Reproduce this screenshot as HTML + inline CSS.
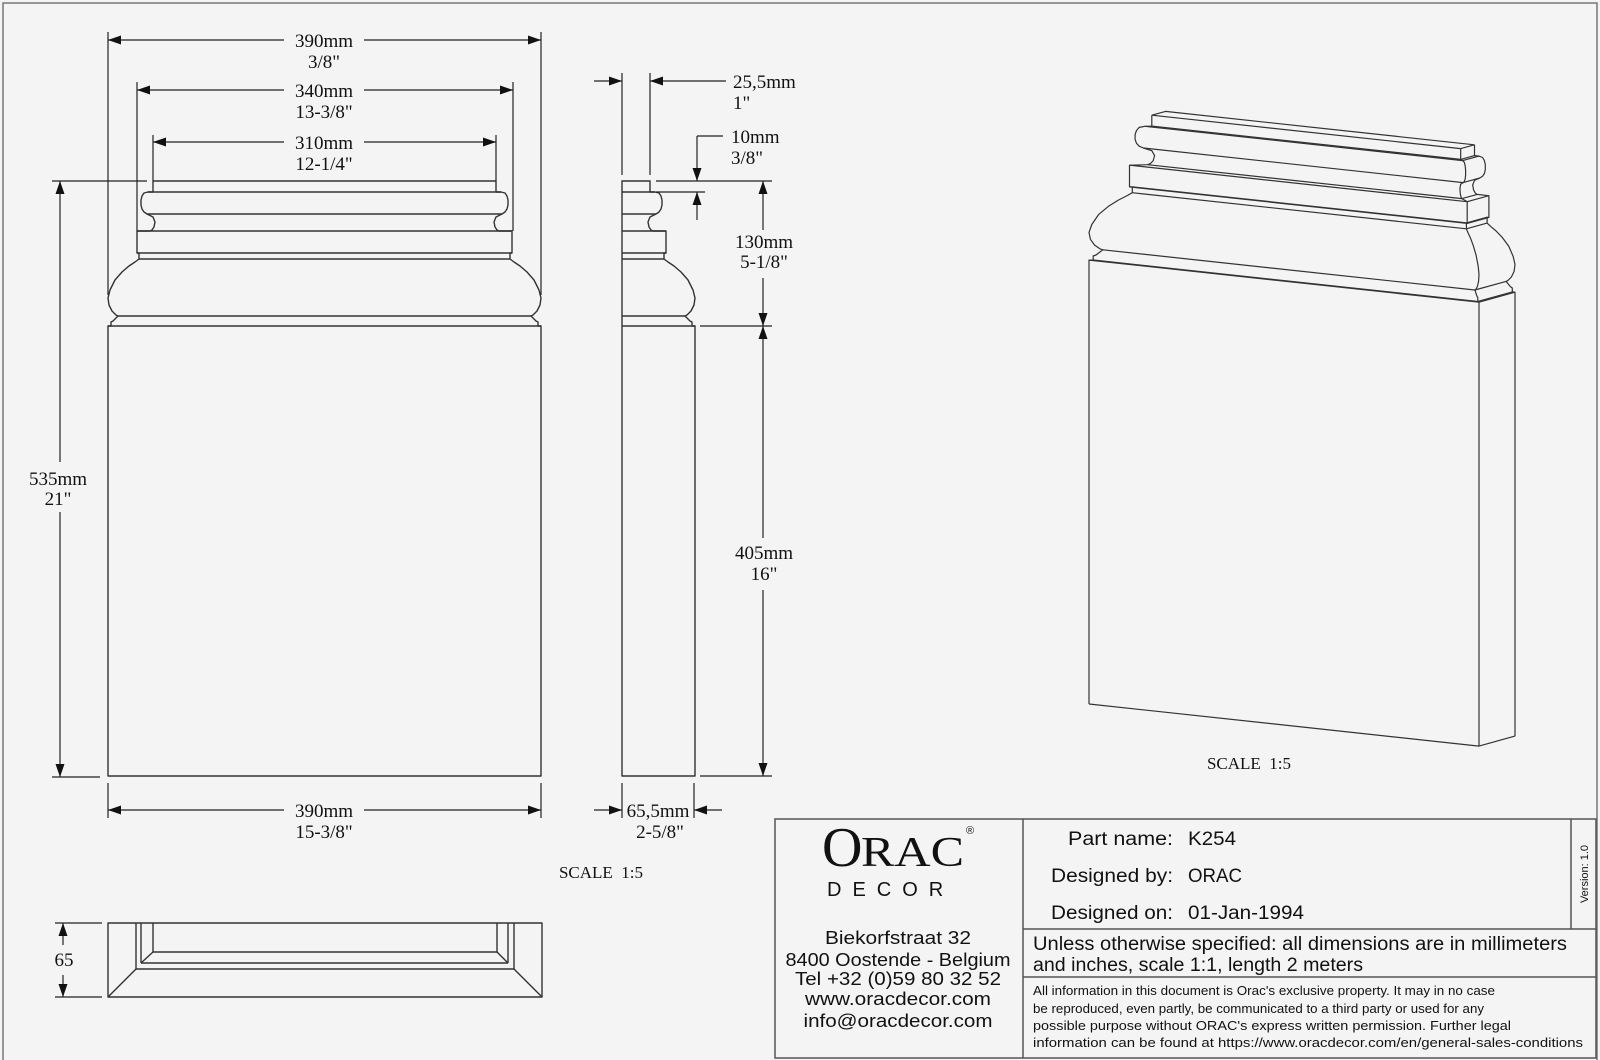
<!DOCTYPE html>
<html><head><meta charset="utf-8">
<style>
html,body{margin:0;padding:0;background:#f4f4f4;}
svg{display:block;}
.d{font-family:"Liberation Serif",serif;font-size:19px;fill:#111;}
.s{font-family:"Liberation Sans",sans-serif;fill:#111;}
</style></head><body>
<svg id="sv" width="1600" height="1060" viewBox="0 0 1600 1060" xmlns="http://www.w3.org/2000/svg">
<rect x="0" y="0" width="1600" height="1060" fill="#f4f4f4"/>
<rect x="3" y="3" width="1594" height="1060" fill="none" stroke="#777" stroke-width="1.5"/>
<g id="geo" fill="none" stroke="#333" stroke-width="1.4" stroke-linejoin="round"></g>
<g id="iso" fill="none" stroke="#333" stroke-width="1.2" stroke-linejoin="round"></g>
<g id="dims" stroke="#222" stroke-width="1.2" fill="none"></g>
<g id="arr" fill="#111" stroke="none"></g>

<g class="d" text-anchor="middle">
<text x="324" y="47">390mm</text><text x="324" y="68">3/8"</text>
<text x="324" y="97">340mm</text><text x="324" y="118">13-3/8"</text>
<text x="324" y="149">310mm</text><text x="324" y="170">12-1/4"</text>
<text x="58" y="485">535mm</text><text x="58" y="505">21"</text>
<text x="324" y="817">390mm</text><text x="324" y="838">15-3/8"</text>
<text x="658" y="817">65,5mm</text><text x="660" y="838">2-5/8"</text>
<text x="764" y="248">130mm</text><text x="764" y="268">5-1/8"</text>
<text x="764" y="559">405mm</text><text x="764" y="580">16"</text>
<text x="64" y="966">65</text>
<text x="601" y="878" style="font-size:17px">SCALE&#160;&#160;1:5</text>
<text x="1249" y="769" style="font-size:17px">SCALE&#160;&#160;1:5</text>
</g>
<g class="d">
<text x="733" y="88">25,5mm</text><text x="733" y="109">1"</text>
<text x="731" y="143">10mm</text><text x="731" y="164">3/8"</text>
</g>

<g stroke="#555" stroke-width="1.5" fill="none">
<rect x="775" y="819" width="821" height="239"/>
<line x1="1023" y1="819" x2="1023" y2="1058"/>
<line x1="1571" y1="819" x2="1571" y2="929"/>
<line x1="1023" y1="929" x2="1596" y2="929"/>
<line x1="1023" y1="977" x2="1596" y2="977"/>
</g>
<g style="font-family:'Liberation Serif',serif;fill:#111">
<text x="822" y="866" style="font-size:56px">O</text>
<text x="861" y="866" style="font-size:42px" textLength="103" lengthAdjust="spacingAndGlyphs">RAC</text>
<text x="966" y="834" style="font-size:11px;font-family:'Liberation Sans',sans-serif">®</text>
</g>
<text class="s" x="827" y="896" style="font-size:20px;letter-spacing:11px">DECOR</text>
<g class="s" text-anchor="middle" style="font-size:18px">
<text x="898" y="944" textLength="146" lengthAdjust="spacingAndGlyphs">Biekorfstraat 32</text>
<text x="898" y="966" textLength="225" lengthAdjust="spacingAndGlyphs">8400 Oostende - Belgium</text>
<text x="898" y="985" textLength="206" lengthAdjust="spacingAndGlyphs">Tel  +32 (0)59 80 32 52</text>
<text x="898" y="1005" textLength="186" lengthAdjust="spacingAndGlyphs">www.oracdecor.com</text>
<text x="898" y="1027" textLength="189" lengthAdjust="spacingAndGlyphs">info@oracdecor.com</text>
</g>
<g class="s" style="font-size:19px">
<text x="1173" y="845" text-anchor="end" textLength="105" lengthAdjust="spacingAndGlyphs">Part name:</text>
<text x="1188" y="845" textLength="48" lengthAdjust="spacingAndGlyphs">K254</text>
<text x="1173" y="882" text-anchor="end" textLength="122" lengthAdjust="spacingAndGlyphs">Designed by:</text>
<text x="1188" y="882" textLength="54" lengthAdjust="spacingAndGlyphs">ORAC</text>
<text x="1173" y="919" text-anchor="end" textLength="122" lengthAdjust="spacingAndGlyphs">Designed on:</text>
<text x="1188" y="919" textLength="116" lengthAdjust="spacingAndGlyphs">01-Jan-1994</text>
<text x="1033" y="950" textLength="534" lengthAdjust="spacingAndGlyphs">Unless otherwise specified: all dimensions are in millimeters</text>
<text x="1033" y="971" textLength="330" lengthAdjust="spacingAndGlyphs">and inches, scale 1:1, length 2 meters</text>
</g>
<g class="s" style="font-size:13px">
<text x="1033" y="995" textLength="462" lengthAdjust="spacingAndGlyphs">All information in this document is Orac's exclusive property.  It may in no case</text>
<text x="1033" y="1013" textLength="451" lengthAdjust="spacingAndGlyphs">be reproduced, even partly, be communicated to a third party or used for any</text>
<text x="1033" y="1030" textLength="478" lengthAdjust="spacingAndGlyphs">possible purpose without ORAC's express written permission. Further legal</text>
<text x="1033" y="1047" textLength="550" lengthAdjust="spacingAndGlyphs">information can be found at https://www.oracdecor.com/en/general-sales-conditions</text>
</g>
<text class="s" x="0" y="0" transform="translate(1588,874) rotate(-90)" text-anchor="middle" style="font-size:11px">Version: 1.0</text>
</svg>
<script>
(function(){
var P=[[181,45],[192,45],[192,40],[193,36],[196,34],[200,33],[205,33],[209,34],[212,36],[214,39],[217,45],[222,47],[227,46],[230,44],[231,42],[231,29],[253,29],[253,31],[259,31],[262,27],[266,21],[272,14],[280,7],[290,2],[298,0],[305,1],[311,4],[315,8],[316,10],[318,8],[321,5],[322,3],[326,3],[326,0],[776,0]];
var B=[181,192,214,231,253,259,316,326,776];
function dmin(y){var m=1e9;P.forEach(function(p){if(p[0]===y&&p[1]<m)m=p[1];});return m;}
var g='';
function pl(pts,close){return '<path d="M'+pts.map(function(p){return p[0].toFixed(1)+','+p[1].toFixed(1);}).join(' L')+(close?' Z':'')+'"/>';}
function ln(a,b,c,d){return '<line x1="'+a+'" y1="'+b+'" x2="'+c+'" y2="'+d+'"/>';}
var L=P.map(function(p){return [108+p[1],p[0]];});
var R=P.map(function(p){return [541-p[1],p[0]];}).reverse();
g+=pl(L.concat(R),true);
B.slice(1,-1).forEach(function(y){var d=dmin(y);g+=ln(108+d,y,541-d,y);});
var S=[[622,181]].concat(P.map(function(p){return [695-p[1],p[0]];})).concat([[622,776]]);
g+=pl(S,true);
B.slice(1,-1).forEach(function(y){var d=dmin(y);g+=ln(622,y,695-d,y);});
g+='<rect x="108" y="923" width="434" height="74"/>';
g+=ln(136,923,136,969)+ln(141,923,141,963)+ln(153,923,153,952);
g+=ln(514,923,514,969)+ln(508,923,508,963)+ln(497,923,497,952);
g+=ln(153,952,497,952)+ln(141,963,508,963)+ln(136,969,514,969);
g+=ln(153,952,141,963)+ln(497,952,508,963)+ln(136,969,108,997)+ln(514,969,542,997);
document.getElementById('geo').innerHTML=g;
// iso
var h='';
function f(X,Y,Z){return [1125+1.0*X-0.55*Y,694+0.108*X+0.153*Y-1.096*Z];}
function Zof(y){return (776-y)/1.111;}
var FL=[],FR=[],BR=[];
P.forEach(function(p){var dm=p[1]/1.11,Z=Zof(p[0]);FL.push(f(dm,65.5-dm,Z));FR.push(f(390-dm,65.5-dm,Z));BR.push(f(390-dm,0,Z));});
h+=pl(FL)+pl(FR)+pl(BR);
P.forEach(function(p,i){if(B.indexOf(p[0])>=0){var a=FL[i],b=FR[i],c=BR[i];h+=ln(a[0].toFixed(1),a[1].toFixed(1),b[0].toFixed(1),b[1].toFixed(1))+ln(b[0].toFixed(1),b[1].toFixed(1),c[0].toFixed(1),c[1].toFixed(1));}});
var zt=Zof(181),dt=45/1.11;
var t1=f(dt,65.5-dt,zt),t2=f(dt,0,zt),t3=f(390-dt,0,zt);
h+=pl([t1,t2,t3]);
document.getElementById('iso').innerHTML=h;

var d='',a='';
function ar(x,y,dir){var l=13,w=4.5,p;
 if(dir==='r')p=[[x,y],[x-l,y-w],[x-l,y+w]];
 if(dir==='l')p=[[x,y],[x+l,y-w],[x+l,y+w]];
 if(dir==='u')p=[[x,y],[x-w,y+l],[x+w,y+l]];
 if(dir==='d')p=[[x,y],[x-w,y-l],[x+w,y-l]];
 a+='<polygon points="'+p.map(function(q){return q.join(',');}).join(' ')+'"/>';}
d+=ln(108,32,108,295)+ln(541,32,541,295)+ln(108,40,284,40)+ln(364,40,541,40);ar(108,40,'l');ar(541,40,'r');
d+=ln(137,82,137,231)+ln(513,82,513,231)+ln(137,90,284,90)+ln(364,90,513,90);ar(137,90,'l');ar(513,90,'r');
d+=ln(153,135,153,181)+ln(496,135,496,181)+ln(153,142,284,142)+ln(364,142,496,142);ar(153,142,'l');ar(496,142,'r');
d+=ln(52,181,147,181)+ln(52,777,100,777)+ln(60,181,60,462)+ln(60,512,60,777);ar(60,181,'u');ar(60,777,'d');
d+=ln(108,783,108,818)+ln(541,783,541,818)+ln(108,810,284,810)+ln(364,810,541,810);ar(108,810,'l');ar(541,810,'r');
d+=ln(622,73,622,175)+ln(650,73,650,175)+ln(594,81,622,81)+ln(650,81,726,81);ar(622,81,'r');ar(650,81,'l');
d+=ln(656,181,772,181)+ln(656,192,705,192)+ln(697,136,723,136)+ln(697,136,697,181)+ln(697,192,697,220);ar(697,181,'d');ar(697,192,'u');
d+=ln(700,326,772,326)+ln(700,776,772,776)+ln(763,181,763,230)+ln(763,278,763,326)+ln(763,326,763,538)+ln(763,590,763,776);
ar(763,181,'u');ar(763,326,'d');ar(763,326,'u');ar(763,776,'d');
d+=ln(622,783,622,818)+ln(694,783,694,818)+ln(594,810,622,810)+ln(694,810,722,810);ar(622,810,'r');ar(694,810,'l');
d+=ln(55,923,102,923)+ln(55,997,102,997)+ln(63,923,63,945)+ln(63,975,63,997);ar(63,923,'u');ar(63,997,'d');
document.getElementById('dims').innerHTML=d;
document.getElementById('arr').innerHTML=a;
})();
</script>
</body></html>
